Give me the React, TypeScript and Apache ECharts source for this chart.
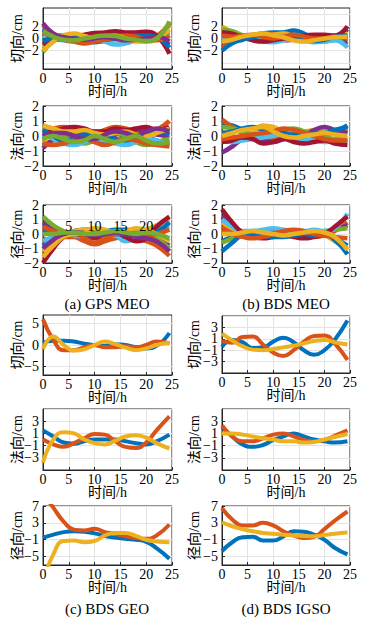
import React, { useEffect, useRef } from 'react';
import * as echarts from 'echarts';

// ---------- data ----------
const HOURS = [0, 2, 4, 6, 8, 10, 12, 14, 16, 18, 20, 22, 24.5];
const X_TICKS = [0, 5, 10, 15, 20, 25];
const X_INNER_LABELS = [5, 10, 15, 20];

const COLORS = ['#0072BD', '#D95319', '#EDB120', '#7E2F8E', '#77AC30', '#4DBEEE', '#A2142F'];

// (a) GPS MEO
const gpsAlong = [
  [1.5, 0.5, 0, -0.3, -0.5, -0.6, -0.4, -0.8, -0.5, 0, 0.3, 0.5, 1],
  [2.2, 0.8, 0.3, 0.2, 0.3, 0.5, 0.8, 1, 0.6, 0.2, 0, 0.4, 2.5],
  [-1.5, -0.3, 0.3, 0.5, 0.6, 0.3, -0.2, -0.5, -0.3, 0, 0.2, 0.3, 0.2],
  [0.8, 0.2, 0, 0.2, 0.3, 0.2, 0, 0.1, 0.3, 0.4, 0.2, 0, -1],
  [-2.2, -0.5, 0, -0.2, -0.5, -0.3, 0, 0.3, 0.2, -0.3, -0.5, 0, 2.2],
  [0.5, 0, -0.3, -0.5, -0.3, 0, -0.5, -1, -0.8, -0.3, 0, 0.2, 0.5],
  [-1, -0.3, 0, 0.2, 0.6, 0.9, 1, 1.2, 1, 1, 1.1, 0.5, -2.5],
  [-0.5, 0.2, 0.5, 0.3, 0, -0.2, -0.2, 0, 0.2, 0.5, 0.5, 0.2, -1.5],
  [1, 0.3, -0.2, -0.5, -0.8, -0.5, -0.2, 0.2, 0.5, 0.3, -0.2, -0.3, 0.5],
  [-2, -0.5, 0.5, 0.8, 0.4, 0, 0.3, 0.5, 0, -0.5, -0.3, 0, 1.5],
  [2.5, 0.8, 0.2, 0, -0.2, 0, 0.2, 0, -0.3, -0.2, 0, 0.3, -0.5],
  [1.2, 0.3, -0.2, -0.3, 0, 0.3, 0.5, 0.4, 0, -0.2, -0.4, 0, 2.8],
];
const gpsCross = [
  [-0.6, -0.3, 0, 0.2, 0, -0.3, -0.5, -0.3, 0, 0.2, 0, -0.3, -0.5],
  [0.3, 0.5, 0.6, 0.5, 0.3, 0.2, 0.4, 0.6, 0.5, 0.3, 0.2, 0.4, 1],
  [-0.3, -0.5, -0.4, -0.2, 0, 0.3, 0.2, -0.1, -0.3, -0.2, 0, 0.2, 0.3],
  [-0.8, -0.2, 0.3, 0.2, 0.1, 0, -0.1, 0.1, 0.3, 0.4, 0.3, 0.1, 0],
  [0.6, 0.4, 0, -0.3, -0.5, -0.3, 0, 0.2, 0, -0.4, -0.6, -0.4, -0.2],
  [0.1, -0.2, -0.5, -0.6, -0.4, -0.2, -0.3, -0.5, -0.6, -0.4, -0.2, -0.3, -0.6],
  [0.2, 0.3, 0.5, 0.6, 0.5, 0.3, 0.3, 0.5, 0.4, 0.5, 0.6, 0.4, 0.6],
  [0.4, 0, -0.3, -0.2, 0.1, 0.2, 0, -0.2, -0.3, -0.1, 0.2, 0.3, 0.1],
  [-0.5, -0.6, -0.5, -0.3, -0.2, -0.4, -0.6, -0.4, -0.2, -0.3, -0.5, -0.6, -0.7],
  [0.7, 0.5, 0.3, 0.3, 0.4, 0.2, 0.1, 0.2, 0.3, 0.1, 0, 0.2, 0.5],
  [0, 0.2, 0.2, 0, -0.2, -0.2, 0.1, 0.3, 0.2, 0, 0.3, 0.5, 0.3],
  [-0.2, 0, -0.2, -0.4, -0.3, 0, -0.2, -0.4, -0.2, 0, -0.3, -0.5, -0.4],
];
const gpsRadial = [
  [-0.8, -0.3, 0, 0.2, 0.3, 0.3, 0.2, 0.3, 0.3, 0.2, 0, -0.2, -0.5],
  [-0.3, -0.5, -0.2, -0.2, -0.5, -0.7, -0.5, -0.3, -0.2, -0.3, -0.5, -0.8, -1.5],
  [-1.2, -0.6, -0.1, 0.2, 0.3, 0.2, 0, -0.1, 0, 0.1, 0.3, 0.6, 1],
  [0.8, 0.4, 0.1, -0.1, -0.2, -0.3, -0.2, 0, -0.2, -0.3, -0.2, -0.4, -0.8],
  [1.2, 0.6, 0.2, 0, 0.1, 0.2, 0.1, 0, 0.1, 0.2, 0.1, -0.3, -1],
  [-0.5, -0.2, 0, -0.1, -0.2, -0.1, 0, -0.1, -0.5, -0.3, 0, 0.3, 0.5],
  [-2, -1, -0.2, 0.1, 0, -0.2, -0.1, 0.1, -0.2, -0.5, -0.3, 0.5, 1.2],
  [0.3, 0.1, -0.1, 0, 0.1, 0, -0.1, 0, 0, -0.1, -0.2, 0.1, 0.8],
  [0.5, 0.2, 0, 0, -0.3, -0.6, -0.3, 0, 0.1, 0, -0.1, 0, 0.3],
  [-1.6, -0.8, -0.2, 0, 0.1, 0.4, 0.3, 0.1, 0.2, 0.4, 0.3, 0, -0.5],
  [-1, -0.4, 0, 0.1, 0, -0.1, 0, 0.1, 0, -0.2, -0.3, -0.5, -1.2],
  [0, 0, 0.1, 0.1, 0, 0, 0.1, 0.2, 0.1, 0, 0.1, 0, -0.3],
];

// (b) BDS MEO
const bdsMeoAlong = [
  [0.8, 0.5, 0, 0.3, 0.8, 1, 1, 1.3, 0.8, 0, -0.3, 0, 1.5],
  [-1.5, -0.5, 0, 0.5, 0.8, 0.7, 0.4, 0.3, 0.5, 0.5, 0.3, 0, -1],
  [2, 1, 0.2, 0, 0.3, 0.6, 0.8, 0.4, 0, 0.2, 0.5, 0.4, 0.8],
  [-0.5, -0.3, 0, 0, -0.2, -0.3, -0.3, -0.2, 0, 0.2, 0.3, 0, -0.5],
  [1.5, 1.2, 0.5, 0, -0.3, -0.2, 0, 0, -0.2, -0.4, -0.5, -0.2, 0.2],
  [0.3, 0.2, 0.3, 0, -0.5, -0.6, -0.3, 0, -0.3, -0.6, -0.5, -0.3, -1.5],
  [1, 0.8, 0.2, -0.3, -0.5, -0.3, 0, 0.2, 0.5, 0.6, 0.6, 0.5, 2],
  [-2, -0.8, -0.2, 0.2, 0.5, 0.4, 0.2, 0, -0.3, -0.4, -0.2, 0.3, 0.5],
  [0.5, 0.3, 0.5, 0.6, 0.3, 0, 0.3, 0.6, 0.3, 0, 0, 0.3, 0],
  [-0.5, -0.2, 0.3, 0.6, 0.8, 0.5, 0.2, -0.3, -0.5, -0.3, 0, 0.2, 0.3],
];
const bdsMeoCross = [
  [0.8, 0.7, 0.4, 0, -0.3, -0.3, -0.2, 0, 0.2, 0.3, 0.2, 0.3, 0.7],
  [1.1, 0.6, 0.2, 0, -0.2, -0.1, 0, -0.2, -0.3, -0.2, 0, 0.2, 0.4],
  [0.3, 0, -0.2, 0.2, 0.7, 0.6, 0.3, 0.2, 0.3, 0.4, 0.5, 0.4, 0.3],
  [-1.1, -0.7, -0.2, 0, -0.3, -0.4, -0.2, 0, 0.1, 0.4, 0.6, 0.4, 0.2],
  [0.6, 0.5, 0.3, 0.1, 0, 0.2, 0.4, 0.5, 0.3, 0.1, -0.1, -0.2, -0.2],
  [-0.3, -0.4, -0.3, -0.2, -0.1, 0, 0.1, -0.1, -0.2, -0.3, -0.4, -0.3, -0.4],
  [-0.4, -0.3, -0.1, -0.2, -0.5, -0.4, -0.2, -0.4, -0.5, -0.4, -0.3, -0.5, -0.6],
  [0.2, 0.3, 0.5, 0.6, 0.4, 0.3, 0.2, 0.1, 0.1, 0.2, 0.2, 0.4, 0.6],
  [-0.2, -0.1, 0, 0.1, 0.2, 0.3, 0.5, 0.4, 0.2, 0, -0.2, -0.3, -0.3],
  [0, 0.2, 0.4, 0.5, 0.6, 0.3, 0, -0.1, 0, 0.1, 0.2, 0.1, 0],
];
const bdsMeoRadial = [
  [-0.5, -0.2, 0, 0.1, 0.2, 0.2, 0.1, 0, 0, 0.1, 0, -0.3, -0.8],
  [0.5, 0.2, 0, -0.1, -0.2, -0.1, 0, 0, -0.1, -0.2, -0.1, 0.2, 0.8],
  [0.8, 0.4, 0.1, 0, 0, 0.1, 0.2, 0.1, 0, 0, -0.1, -0.5, -1],
  [1.2, 0.6, 0.1, -0.1, 0, 0.1, 0, -0.1, 0, 0, 0.1, 0.3, 0.6],
  [-0.6, -0.3, 0, 0.2, 0.2, 0, -0.1, -0.1, 0, 0.1, 0.2, 0.3, 0.4],
  [1, 0.5, 0.2, 0.2, 0.3, 0.4, 0.3, 0.2, 0.2, 0.3, 0.2, 0.4, 1.4],
  [1.7, 0.8, 0.1, -0.2, -0.3, -0.2, -0.1, -0.2, -0.3, -0.2, 0, 0.5, 1.2],
  [-1.2, -0.6, -0.1, 0, -0.1, -0.2, -0.2, -0.1, 0, -0.1, -0.1, -0.4, -1.4],
  [0.2, 0, -0.2, -0.3, -0.2, 0, 0.2, 0.3, 0.2, 0, -0.1, -0.2, -0.3],
  [0, 0, 0.1, 0.2, 0.1, 0, -0.1, 0, 0.1, 0.2, 0.1, -0.2, -1.1],
];

// (c) BDS GEO
const geoAlong = [
  [0.5, 1, 1, 0.8, 0.3, 0, -0.2, 0.2, 0, -0.5, -0.8, -0.2, 2.8],
  [6, 1.2, -1.2, -1.2, -0.5, 0, -0.5, -0.5, -0.3, -0.5, 0, 0.8, 0.4],
  [-1, 2, 0, -1.3, -1, 0, 0.8, 0.2, -0.6, -1.2, -0.8, 0, 0.5],
];
const geoCross = [
  [1.5, 0.5, -0.5, -0.7, -0.3, 0, 0, 0, -0.3, -0.6, -0.8, -0.3, 0.8],
  [0, -0.8, -1.2, -0.6, 0.2, 0.9, 0.8, -0.3, -1.2, -1.4, -0.5, 1.5, 3.8],
  [-3.8, 0, 1.2, 1, 0, -0.6, -0.8, -0.2, 0.5, 0.7, 0.3, -0.6, -1.5],
];
const geoRadial = [
  [-0.5, 0.2, 0.8, 1, 0.9, 0.5, -0.1, -0.5, -0.8, -1, -1.5, -3, -5.5],
  [10, 6.6, 3.3, 1.4, 1.2, 1.6, 0.8, 0.4, -0.2, -0.6, -0.8, 0, 2.6],
  [-11, -4.5, -1.3, -1.2, -1.6, -1.3, 0, 0.6, 0.6, -0.1, -1, -1.4, -1.6],
];

// (d) BDS IGSO
const igsoAlong = [
  [-0.4, 0.8, 0.4, -0.6, -0.5, 0.5, 1.2, 0.4, -1, -1.8, -1, 0.8, 4.2],
  [0.6, 0.3, 1.3, 1.4, 0, -1.4, -2, -1, 0.5, 1.5, 1.6, 0.2, -2.7],
  [1.9, 0.7, -0.3, -0.9, -1, -0.8, -0.5, -0.2, 0.2, 0.6, 0.8, 0.4, 0],
];
const igsoCross = [
  [2, 0.5, -0.8, -1.2, -0.9, -0.1, 0.5, 1, 0.5, 0, -0.3, -0.5, -0.3],
  [2.3, 0.5, -0.3, -0.3, 0.2, 0.8, 1, 0.5, -0.1, -0.3, -0.1, 0.6, 1.5],
  [1, 1, 0.8, 0.5, 0.2, 0, -0.3, -0.3, -0.5, -0.4, 0, 0.4, 0.9],
];
const igsoRadial = [
  [-3.7, -1.6, -0.4, -0.3, -1.2, -1.2, -0.2, 1, 0.9, 0.2, -1, -2.9, -4.5],
  [6.5, 3.8, 2.4, 2.4, 3, 2.4, 1, 0, -0.6, -0.3, 1.5, 3.5, 5.7],
  [3.1, 2.2, 1.5, 1, 0.6, 0.4, 0.2, 0, -0.1, -0.2, 0.1, 0.4, 0.7],
];

// y ticks
const TICKS_5_EVEN = [-4, -2, 0, 2, 4];
const TICKS_2 = [-2, -1, 0, 1, 2];
const TICKS_5_ODD = [-5, -3, -1, 1, 3, 5];
const TICKS_7_FIVE = [-5, 0, 5];
const TICKS_7_FOUR = [-5, -1, 3, 7];

const NAMES = ['切向/cm', '法向/cm', '径向/cm'];
const CAPTIONS = ['(a) GPS MEO', '(b) BDS MEO', '(c) BDS GEO', '(d) BDS IGSO'];

// panels, in grid order
const PANELS = [
  { data: gpsAlong, min: -5, max: 5, ticks: TICKS_5_EVEN, name: NAMES[0] },
  { data: bdsMeoAlong, min: -5, max: 5, ticks: TICKS_5_EVEN, name: NAMES[0] },
  { data: gpsCross, min: -2, max: 2, ticks: TICKS_2, name: NAMES[1] },
  { data: bdsMeoCross, min: -2, max: 2, ticks: TICKS_2, name: NAMES[1] },
  { data: gpsRadial, min: -2, max: 2, ticks: TICKS_2, name: NAMES[2] },
  { data: bdsMeoRadial, min: -2, max: 2, ticks: TICKS_2, name: NAMES[2] },
  { data: geoAlong, min: -7, max: 7, ticks: TICKS_7_FIVE, name: NAMES[0] },
  { data: igsoAlong, min: -5, max: 5, ticks: TICKS_5_ODD, name: NAMES[0] },
  { data: geoCross, min: -5, max: 5, ticks: TICKS_5_ODD, name: NAMES[1] },
  { data: igsoCross, min: -5, max: 5, ticks: TICKS_5_ODD, name: NAMES[1] },
  { data: geoRadial, min: -7, max: 7, ticks: TICKS_7_FOUR, name: NAMES[2] },
  { data: igsoRadial, min: -7, max: 7, ticks: TICKS_7_FOUR, name: NAMES[2] },
];

// ---------- layout ----------
const LAYOUT = [
  { left: 43, top: 8, width: 129, height: 61 },
  { left: 222, top: 8, width: 128, height: 61 },
  { left: 43, top: 106, width: 129, height: 60 },
  { left: 222, top: 106, width: 128, height: 60 },
  { left: 43, top: 205, width: 129, height: 58 },
  { left: 222, top: 205, width: 128, height: 58 },
  { left: 43, top: 315, width: 129, height: 60 },
  { left: 222, top: 316, width: 128, height: 57 },
  { left: 43, top: 409, width: 129, height: 61 },
  { left: 222, top: 409, width: 128, height: 61 },
  { left: 43, top: 506, width: 129, height: 59 },
  { left: 222, top: 506, width: 128, height: 59 },
];
const NAME_GAP = [19, 21];
const CAPTION_POS = [
  { x: 107, y: 304 },
  { x: 286, y: 304 },
  { x: 107, y: 609 },
  { x: 286, y: 609 },
];

const FONT = '"Liberation Serif", "Noto Sans CJK SC", serif';
const AXIS_COLOR = '#262626';
const fmt = (v: number) => (v < 0 ? '\u2212' + String(-v) : String(v));

export default function App() {
  const ref = useRef<HTMLDivElement>(null);
  useEffect(() => {
    if (!ref.current) return;
    const chart = echarts.init(ref.current, undefined, { renderer: 'svg' });

    const grid = LAYOUT.map((g) => ({
      ...g,
      show: true,
      borderColor: AXIS_COLOR,
      borderWidth: 1,
      backgroundColor: '#fff',
    }));

    const xAxis: any[] = PANELS.map((_, i) => ({
      type: 'value',
      gridIndex: i,
      min: 0,
      max: 25,
      interval: 5,
      name: '时间/h',
      nameLocation: 'middle',
      nameGap: 15,
      nameMoveOverlap: false,
      nameTextStyle: { fontFamily: FONT, fontSize: 14, color: '#000' },
      axisLine: { show: true, onZero: false, lineStyle: { color: AXIS_COLOR } },
      axisTick: { show: true, inside: true, length: 3, lineStyle: { color: AXIS_COLOR } },
      axisLabel: {
        customValues: X_TICKS,
        margin: 2,
        fontFamily: FONT,
        fontSize: 14,
        color: '#000',
        formatter: (v: number) => fmt(v),
      },
      splitLine: { show: true, lineStyle: { color: '#e3e3e3', width: 1 } },
    }));
    // duplicated tick labels that appear inside the GPS MEO radial panel
    xAxis.push({
      type: 'value',
      gridIndex: 4,
      min: 0,
      max: 25,
      interval: 5,
      position: 'bottom',
      offset: -46,
      axisLine: { show: false },
      axisTick: { show: false },
      splitLine: { show: false },
      axisLabel: {
        customValues: X_INNER_LABELS,
        margin: 2,
        fontFamily: FONT,
        fontSize: 14,
        color: '#000',
      },
      z: 10,
    });

    const yAxis = PANELS.map((p, i) => ({
      type: 'value',
      gridIndex: i,
      min: p.min,
      max: p.max,
      name: p.name,
      nameLocation: 'middle',
      nameGap: NAME_GAP[i % 2],
      nameMoveOverlap: false,
      nameTextStyle: { fontFamily: FONT, fontSize: 14, color: '#000' },
      axisLine: { show: true, onZero: false, lineStyle: { color: AXIS_COLOR } },
      axisTick: { show: true, inside: true, length: 3, customValues: p.ticks, lineStyle: { color: AXIS_COLOR } },
      axisLabel: {
        customValues: p.ticks,
        margin: 4,
        fontFamily: FONT,
        fontSize: 14,
        color: '#000',
        formatter: (v: number) => fmt(v),
      },
      splitLine: { show: true, lineStyle: { color: '#e3e3e3', width: 1 } },
    }));

    const series: any[] = [];
    PANELS.forEach((p, gi) => {
      const width = p.data.length > 3 ? 4.5 : 4;
      p.data.forEach((vals, si) => {
        series.push({
          type: 'line',
          xAxisIndex: gi,
          yAxisIndex: gi,
          data: HOURS.map((h, k) => [h, vals[k]]),
          showSymbol: false,
          smooth: 0.5,
          clip: true,
          lineStyle: { width, color: COLORS[si % COLORS.length] },
          itemStyle: { color: COLORS[si % COLORS.length] },
          emphasis: { disabled: true },
          silent: true,
        });
      });
    });

    const graphic = CAPTIONS.map((c, i) => ({
      type: 'text',
      x: CAPTION_POS[i].x,
      y: CAPTION_POS[i].y,
      style: {
        text: c,
        fontFamily: FONT,
        fontSize: 15,
        fill: '#000',
        textAlign: 'center',
        textVerticalAlign: 'middle',
      },
    }));

    chart.setOption({
      animation: false,
      backgroundColor: '#fff',
      grid,
      xAxis,
      yAxis,
      series,
      graphic,
    });
    return () => chart.dispose();
  }, []);
  return (
    <div
      ref={ref}
      style={{ position: 'absolute', left: 0, top: 0, width: 376, height: 621 }}
    />
  );
}
